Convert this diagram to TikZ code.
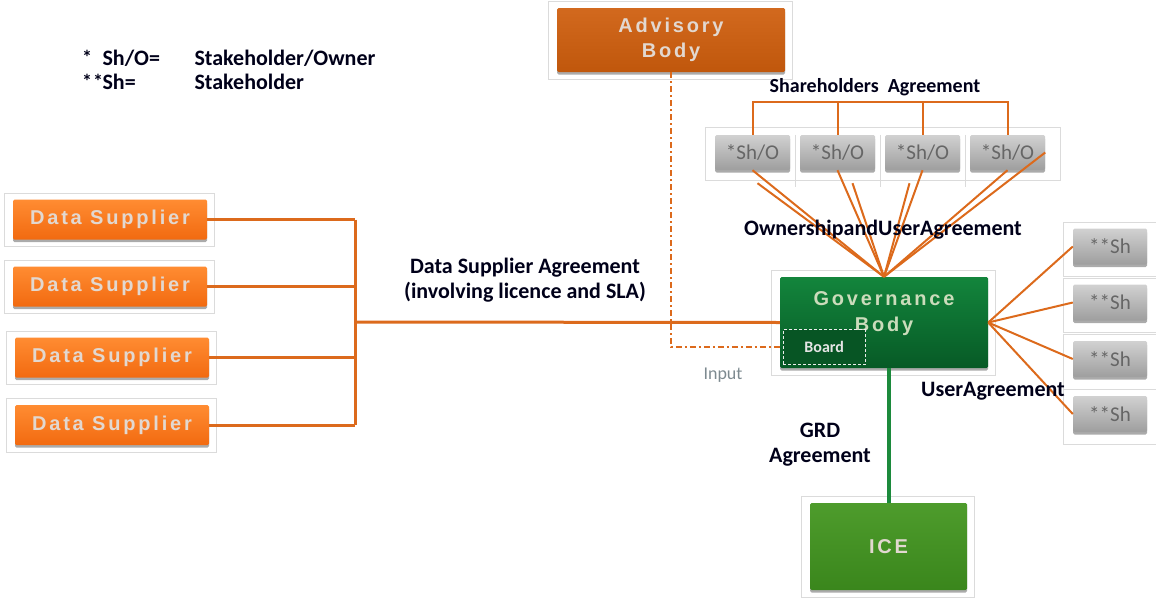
\documentclass[tikz,border=0pt]{standalone}
\usepackage{fontspec}
\setmainfont{Carlito}
\newfontfamily\boxfont[LetterSpace=14]{Liberation Sans}
\usepackage{xcolor}
\usetikzlibrary{positioning,shadows,calc}

\definecolor{dsorange}{HTML}{F26A10}
\definecolor{dsorangelt}{HTML}{FF8C32}
\definecolor{advorange}{HTML}{C0570C}
\definecolor{advorangelt}{HTML}{D2691E}
\definecolor{linkorange}{HTML}{DC6A1C}
\definecolor{govgreen}{HTML}{075A26}
\definecolor{govgreenlt}{HTML}{13853C}
\definecolor{icegreen}{HTML}{3A861C}
\definecolor{icegreenlt}{HTML}{4E9C2C}
\definecolor{grdgreen}{HTML}{1C8A3C}
\definecolor{inputgray}{HTML}{7D8A90}
\definecolor{boxtext}{HTML}{E2D8D0}

\begin{document}
\begin{tikzpicture}[x=1pt,y=-1pt,
    frame/.style={draw=black!14,line width=0.8pt},
    bevel/.style={rounded corners=1.5pt,
        drop shadow={shadow xshift=0pt,shadow yshift=-2.5pt,fill=black!55,opacity=0.6}},
    supplier/.style={bevel,top color=dsorangelt,bottom color=dsorange,
        minimum width=194pt,minimum height=40pt,
        font=\boxfont\bfseries\fontsize{20}{22}\selectfont,text=boxtext},
    advisory/.style={bevel,top color=advorangelt,bottom color=advorange,
        minimum width=228pt,minimum height=64pt,align=center,
        font=\boxfont\bfseries\fontsize{20}{25}\selectfont,text=boxtext},
    governance/.style={bevel,top color=govgreenlt,bottom color=govgreen,
        minimum width=208pt,minimum height=91pt,align=center,
        font=\boxfont\bfseries\fontsize{20}{26}\selectfont,text=boxtext!90!green},
    board/.style={draw=white!85!gray,densely dashed,line width=0.8pt,fill=govgreen!95!black,
        minimum width=82pt,minimum height=35pt,
        font=\bfseries\fontsize{16}{18}\selectfont,text=white!80!gray},
    ice/.style={bevel,top color=icegreenlt,bottom color=icegreen,
        minimum width=157pt,minimum height=87pt,
        font=\boxfont\bfseries\fontsize{20}{22}\selectfont,text=boxtext},
    owner/.style={bevel,top color=black!18,bottom color=black!38,
        minimum width=75pt,minimum height=35pt,
        font=\fontsize{21}{23}\selectfont,text=black!60},
    label/.style={font=\bfseries\fontsize{22}{25}\selectfont,text=black!90!blue},
    stars/.style={label,font=\bfseries\fontsize{20}{22}\selectfont,anchor=west,inner sep=0pt},
    agreement/.style={draw=linkorange,line width=2pt},
    supplyline/.style={draw=linkorange,line width=3pt},
    inputline/.style={draw=linkorange,line width=2pt,
        dash pattern=on 6pt off 3pt on 2pt off 3pt}]
    \useasboundingbox (0,0) rectangle (1156,605);

    % legend
    \node[stars] (star1) at (82,57) {*};
    \node[label,anchor=west] (abbr1) at (99,58) {Sh/O=};
    \node[label,anchor=west] (full1) at (191,58) {Stakeholder/Owner};
    \node[stars] (star2) at (82,81) {*\kern1pt*};
    \node[label,anchor=west] (abbr2) at (99,82) {Sh=};
    \node[label,anchor=west] (full2) at (191,82) {Stakeholder};

    % data suppliers
    \node[supplier] (ds1) at (110,219.5) {Data Supplier};
    \node[supplier] (ds2) at (110,286.5) {Data Supplier};
    \node[supplier] (ds3) at (112,357.5) {Data Supplier};
    \node[supplier] (ds4) at (112,425) {Data Supplier};

    % advisory, governance, ice
    \node[advisory] (adv) at (671,40) {Advisory\\Body};
    \node[governance,text depth=22pt] (gov) at (884,322.5) {Governance\\Body};
    \node[board,anchor=south west] (board) at ([shift={(3pt,3pt)}]gov.south west) {Board};
    \node[ice] (ice) at (888.5,546.5) {ICE};

    % shareholders / owners
    \node[owner] (sho1) at (752.5,152.5) {*Sh/O};
    \node[owner] (sho2) at (837.5,152.5) {*Sh/O};
    \node[owner] (sho3) at (922.5,152.5) {*Sh/O};
    \node[owner] (sho4) at (1007.5,152.5) {*Sh/O};

    % stakeholders
    \node[owner,minimum width=74pt,minimum height=36pt] (sh1) at (1110,246.5) {**Sh};
    \node[owner,minimum width=74pt,minimum height=36pt] (sh2) at (1110,302.5) {**Sh};
    \node[owner,minimum width=74pt,minimum height=36pt] (sh3) at (1110,359) {**Sh};
    \node[owner,minimum width=74pt,minimum height=36pt] (sh4) at (1110,414) {**Sh};

    % light frames round the boxes
    \foreach \n in {ds1,ds2,ds3,ds4,adv,gov,ice}
        \draw[frame] ([shift={(-8pt,6pt)}]\n.north west) rectangle ([shift={(7pt,-7pt)}]\n.south east);
    \draw[frame] ([shift={(-9pt,7pt)}]sho1.north west) rectangle ([shift={(15pt,-10pt)}]sho4.south east);
    \foreach \n in {sho1,sho2,sho3}
        \draw[frame] ([xshift=5pt]\n.north east) -- ++(0,52);
    \foreach \n in {sh1,sh2,sh3,sh4}
        \draw[frame] ([shift={(-9pt,6pt)}]\n.north west) rectangle ([shift={(12pt,-12pt)}]\n.south east);

    % data supplier agreement
    \coordinate (jn) at (355,322);
    \foreach \n in {ds1,ds2,ds3,ds4}
        \draw[supplyline] (\n.east) -- (\n.east -| jn);
    \draw[supplyline] (ds1.east -| jn) -- (ds4.east -| jn);
    \draw[supplyline] (jn) -- (gov.west);
    \node[label,align=center] (dsa) at (525,280.5) {Data Supplier Agreement\\(involving licence and SLA)};

    % advisory input
    \draw[inputline] (adv.south) |- (board.west);
    \node[font=\fontsize{18}{20}\selectfont,text=inputgray] (input) at (723,375) {Input};

    % shareholders agreement
    \coordinate (bar) at ($(sho1.north)+(0,-33)$);
    \draw[agreement] (sho1.north) -- (bar) -| (sho4.north);
    \draw[agreement] (sho2.north) -- (sho2.north |- bar);
    \draw[agreement] (sho3.north) -- (sho3.north |- bar);
    \node[label,font=\bfseries\fontsize{20}{22}\selectfont] (sha) at (875,87) {Shareholders\ \ Agreement};

    % ownership and user agreement
    \draw[agreement] (sho1.south) -- (gov.north);
    \draw[agreement] ($(sho1.south)+(5,13)$) -- (gov.north);
    \draw[agreement] (sho2.south) -- (gov.north);
    \draw[agreement] ($(sho2.south)+(15,13)$) -- (gov.north);
    \draw[agreement] (sho3.south) -- (gov.north);
    \draw[agreement] ($(sho3.south)+(-13,13)$) -- (gov.north);
    \draw[agreement] (sho4.south) -- (gov.north);
    \draw[agreement] (sho4.east) -- (gov.north);
    \node[label] (oua) at (883,230) {OwnershipandUserAgreement};

    % user agreement
    \foreach \n in {sh1,sh2,sh3,sh4}
        \draw[agreement] (gov.east) -- (\n.west);
    \node[label] (ua) at (993,391) {UserAgreement};

    % grd agreement
    \draw[draw=grdgreen,line width=4pt] (gov.south -| ice.north) -- (ice.north);
    \node[label,align=center] (grd) at (820,444.5) {GRD\\Agreement};
\end{tikzpicture}
\end{document}
